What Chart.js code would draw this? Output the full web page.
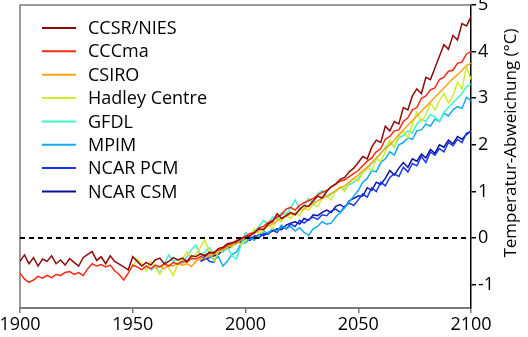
<!DOCTYPE html>
<html>
<head>
<meta charset="utf-8">
<script src="https://cdn.jsdelivr.net/npm/chart.js@4/dist/chart.umd.min.js"></script>
<style>
  html, body { margin: 0; padding: 0; background: #fff; }
  #wrap { width: 528px; height: 337px; }
</style>
</head>
<body>
<div id="wrap"><canvas id="c" width="528" height="337"></canvas></div>
<script>
// Model years, two-year steps
const years = [1900,1902,1904,1906,1908,1910,1912,1914,1916,1918,1920,1922,1924,1926,1928,1930,1932,1934,1936,1938,1940,1942,1944,1946,1948,
  1950,1952,1954,1956,1958,1960,1962,1964,1966,1968,1970,1972,1974,1976,1978,1980,1982,1984,1986,1988,1990,1992,1994,1996,1998,
  2000,2002,2004,2006,2008,2010,2012,2014,2016,2018,2020,2022,2024,2026,2028,2030,2032,2034,2036,2038,2040,2042,2044,2046,2048,2050,
  2052,2054,2056,2058,2060,2062,2064,2066,2068,2070,2072,2074,2076,2078,2080,2082,2084,2086,2088,2090,2092,2094,2096,2098,2100];

const modelNames = ['CCSR/NIES','CCCma','CSIRO','Hadley Centre','GFDL','MPIM','NCAR PCM','NCAR CSM'];
const modelColors = ['#8e0b0b','#f52a10','#fba419','#ccee2c','#3ff4c8','#12aaf6','#1535f2','#0a0f9c'];
const startYears = [1900,1900,1960,1950,1958,1982,1980,1980];

// Temperature anomalies (°C)
const ccsrNies = [-0.5,-0.36,-0.55,-0.42,-0.6,-0.45,-0.5,-0.38,-0.55,-0.47,-0.58,-0.44,-0.52,-0.6,-0.42,-0.35,-0.29,-0.48,-0.4,-0.55,-0.38,-0.5,-0.56,-0.62,-0.68,
  -0.4,-0.5,-0.6,-0.52,-0.58,-0.47,-0.43,-0.55,-0.5,-0.42,-0.47,-0.43,-0.5,-0.38,-0.4,-0.34,-0.38,-0.3,-0.33,-0.22,-0.2,-0.12,-0.1,-0.08,0.0,
  0.02,0.05,0.12,0.2,0.18,0.3,0.35,0.52,0.42,0.48,0.55,0.5,0.62,0.7,0.68,0.8,0.9,0.86,1.0,1.1,1.16,1.26,1.3,1.42,1.5,1.62,
  1.75,1.7,1.95,2.1,2.05,2.4,2.3,2.5,2.45,2.8,2.75,3.05,3.2,3.1,3.45,3.4,3.65,3.9,4.15,4.05,4.35,4.25,4.6,4.55,4.75];
const cccma = [-0.75,-0.88,-0.95,-0.9,-0.82,-0.86,-0.8,-0.85,-0.78,-0.8,-0.74,-0.72,-0.78,-0.74,-0.8,-0.66,-0.55,-0.6,-0.57,-0.62,-0.58,-0.7,-0.78,-0.9,-0.75,
  -0.58,-0.62,-0.68,-0.6,-0.66,-0.58,-0.62,-0.55,-0.6,-0.52,-0.56,-0.5,-0.52,-0.44,-0.45,-0.4,-0.36,-0.33,-0.3,-0.25,-0.22,-0.15,-0.12,-0.05,-0.02,
  0.04,0.1,0.12,0.22,0.25,0.33,0.38,0.45,0.5,0.62,0.66,0.6,0.7,0.76,0.8,0.85,0.92,0.98,1.02,1.1,1.15,1.22,1.25,1.32,1.38,1.45,
  1.55,1.65,1.72,1.85,1.92,2.12,2.18,2.3,2.32,2.5,2.58,2.75,2.8,3.0,3.05,3.18,3.22,3.4,3.45,3.58,3.6,3.75,3.78,3.95,4.0];
const csiro = [-0.65,-0.6,-0.66,-0.58,-0.6,-0.54,-0.58,-0.55,-0.61,-0.5,-0.45,-0.43,-0.38,-0.35,-0.28,-0.25,-0.2,-0.14,-0.1,-0.04,
  0.0,0.06,0.1,0.16,0.2,0.26,0.3,0.38,0.42,0.46,0.52,0.5,0.6,0.62,0.7,0.74,0.8,0.86,0.9,0.96,1.02,1.08,1.12,1.2,1.28,1.35,
  1.45,1.52,1.62,1.72,1.82,1.92,2.0,2.1,2.22,2.32,2.42,2.52,2.62,2.72,2.82,2.92,3.02,3.12,3.22,3.32,3.42,3.5,3.6,3.7,3.75];
const hadley = [-0.62,-0.45,-0.55,-0.7,-0.5,-0.62,-0.78,-0.55,-0.65,-0.8,-0.55,-0.45,-0.3,-0.42,-0.35,-0.2,-0.04,-0.3,-0.5,-0.3,-0.25,-0.15,-0.2,-0.05,-0.15,
  -0.05,0.05,0.2,0.1,0.15,0.3,0.2,0.4,0.35,0.5,0.42,0.55,0.48,0.65,0.6,0.72,0.68,0.85,0.9,0.82,1.0,1.1,1.0,1.2,1.28,1.22,
  1.4,1.5,1.45,1.7,1.65,1.85,2.1,1.95,2.2,2.3,2.15,2.45,2.7,2.5,2.65,2.9,2.75,2.95,3.1,2.9,3.05,3.35,3.2,3.68,3.4];
const gfdl = [-0.7,-0.6,-0.75,-0.55,-0.36,-0.5,-0.45,-0.55,-0.4,-0.25,-0.15,-0.35,-0.3,-0.2,-0.35,-0.25,-0.3,-0.2,-0.38,-0.45,-0.15,
  0.12,0.05,0.15,0.25,0.38,0.3,0.45,0.4,0.55,0.5,0.65,0.82,0.62,0.7,0.85,0.75,0.95,1.02,0.88,0.95,1.0,1.08,1.05,1.15,1.2,1.28,
  1.4,1.5,1.6,1.7,1.82,1.95,2.05,1.95,2.15,2.2,2.3,2.25,2.45,2.55,2.5,2.65,2.6,2.5,2.7,2.8,2.9,3.0,3.1,3.25,3.3];
const mpim = [-0.35,-0.4,-0.45,-0.4,-0.6,-0.5,-0.35,-0.3,-0.12,
  -0.1,0.0,-0.05,0.08,0.15,0.1,0.2,0.15,0.28,0.2,0.25,0.15,0.22,0.12,0.06,0.2,0.25,0.35,0.3,0.32,0.45,0.55,0.65,0.78,0.9,1.02,
  1.2,1.28,1.45,1.42,1.62,1.7,1.85,1.78,2.0,2.05,2.15,2.12,2.3,2.32,2.45,2.4,2.55,2.5,2.68,2.62,2.75,2.82,2.78,3.02,2.95];
const ncarPcm = [-0.45,-0.4,-0.5,-0.52,-0.3,-0.28,-0.2,-0.15,-0.1,-0.05,
  -0.02,-0.05,0.05,0.0,0.1,0.08,0.17,0.12,0.25,0.2,0.3,0.25,0.38,0.32,0.4,0.45,0.4,0.5,0.48,0.58,0.62,0.55,0.68,0.75,0.7,0.82,
  0.95,0.88,1.08,1.0,1.2,1.12,1.3,1.38,1.32,1.52,1.42,1.6,1.55,1.75,1.62,1.85,1.78,1.92,1.85,2.05,1.98,2.12,2.05,2.25,2.28];
const ncarCsm = [-0.5,-0.45,-0.42,-0.38,-0.35,-0.25,-0.22,-0.18,-0.1,-0.08,
  0.0,0.02,0.0,0.08,0.05,0.12,0.15,0.2,0.18,0.28,0.32,0.35,0.3,0.42,0.38,0.5,0.48,0.55,0.6,0.55,0.68,0.72,0.65,0.8,0.85,0.9,
  0.9,1.08,1.02,1.2,1.15,1.28,1.45,1.35,1.5,1.62,1.52,1.7,1.65,1.8,1.72,1.9,1.82,2.0,1.95,2.1,2.02,2.18,2.12,2.22,2.3];

const modelValues = [ccsrNies, cccma, csiro, hadley, gfdl, mpim, ncarPcm, ncarCsm];

const yTicks = [-1, 0, 1, 2, 3, 4, 5];
const xTicks = [1900, 1950, 2000, 2050, 2100];
const yTitle = 'Temperatur-Abweichung (°C)';

const FONT = '"Open Sans", "Liberation Sans", sans-serif';

function seriesPoints(values, start) {
  const i0 = years.indexOf(start);
  return values.map((v, i) => ({ x: years[i0 + i], y: v }));
}

const datasets = [{
  label: '',
  isBaseline: true,
  data: [{ x: xTicks[0], y: 0 }, { x: xTicks[xTicks.length - 1], y: 0 }],
  borderColor: '#000',
  borderWidth: 2,
  borderDash: [5, 4],
  pointRadius: 0
}];
modelNames.forEach((name, k) => {
  datasets.push({
    label: name,
    data: seriesPoints(modelValues[k], startYears[k]),
    borderColor: modelColors[k],
    borderWidth: 1.5,
    pointRadius: 0,
    tension: 0
  });
});

// Frame, in-plot legend and right-hand axis title
const decorations = {
  id: 'decorations',
  beforeDatasetsDraw(chart) {
    const { ctx, chartArea: a } = chart;
    ctx.save();
    ctx.strokeStyle = '#7a7a7a';
    ctx.lineWidth = 1.5;
    ctx.beginPath();
    ctx.moveTo(a.left, a.bottom);
    ctx.lineTo(a.left, a.top);
    ctx.lineTo(a.right, a.top);
    ctx.stroke();
    ctx.restore();
  },
  afterDraw(chart) {
    const { ctx, chartArea: a } = chart;
    ctx.save();
    ctx.font = '18px ' + FONT;
    ctx.textBaseline = 'middle';
    ctx.textAlign = 'left';
    let row = 0;
    chart.data.datasets.forEach(ds => {
      if (ds.isBaseline) return;
      const y = a.top + 23 + row * 23.35;
      ctx.strokeStyle = ds.borderColor;
      ctx.lineWidth = 2;
      ctx.beginPath();
      ctx.moveTo(a.left + 22, y);
      ctx.lineTo(a.left + 56, y);
      ctx.stroke();
      ctx.fillStyle = '#000';
      ctx.fillText(ds.label, a.left + 68, y + 1);
      row++;
    });
    ctx.font = '17px ' + FONT;
    ctx.textAlign = 'center';
    ctx.translate(511, 143);
    ctx.rotate(-Math.PI / 2);
    ctx.fillText(yTitle, 0, 0);
    ctx.restore();
  }
};

new Chart(document.getElementById('c'), {
  type: 'line',
  data: { datasets },
  options: {
    responsive: false,
    animation: false,
    layout: { padding: { left: 20, top: 5, right: 0, bottom: 0 } },
    plugins: { legend: { display: false }, tooltip: { enabled: false } },
    scales: {
      x: {
        type: 'linear',
        min: xTicks[0],
        max: xTicks[xTicks.length - 1],
        afterBuildTicks(scale) { scale.ticks = xTicks.map(v => ({ value: v })); },
        afterFit(scale) { scale.height = 29; scale.paddingLeft = 0; scale.paddingRight = 0; },
        ticks: { color: '#000', font: { family: FONT, size: 18 }, padding: 1, maxRotation: 0, autoSkip: false,
                 callback: v => String(v) },
        grid: { drawOnChartArea: false, drawTicks: true, tickLength: 5, color: '#7a7a7a', lineWidth: 1.5 },
        border: { color: '#7a7a7a', width: 2 }
      },
      y: {
        type: 'linear',
        position: 'right',
        min: -1.5,
        max: 5,
        afterBuildTicks(scale) { scale.ticks = yTicks.map(v => ({ value: v })); },
        afterFit(scale) { scale.width = 57; scale.paddingTop = 0; scale.paddingBottom = 0; },
        ticks: { color: '#000', font: { family: FONT, size: 18 }, padding: 2 },
        grid: { drawOnChartArea: false, drawTicks: true, tickLength: 5, color: '#000', lineWidth: 1.5 },
        border: { color: '#000', width: 1.5 }
      }
    }
  },
  plugins: [decorations]
});
</script>
</body>
</html>
